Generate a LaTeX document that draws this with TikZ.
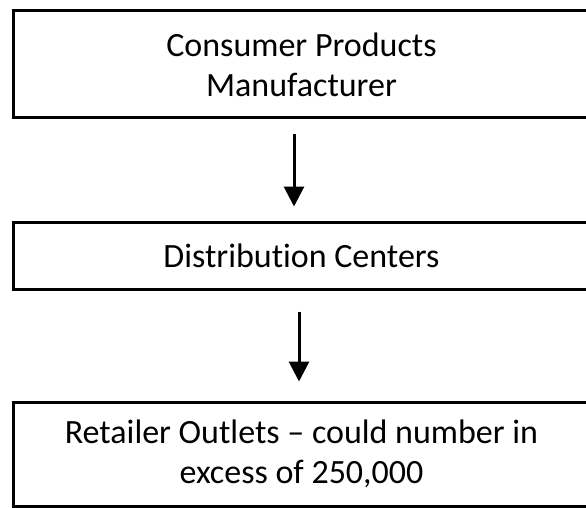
\documentclass[tikz,border=0pt]{standalone}
\usepackage{fontspec}
\setmainfont{Carlito}[Ligatures=NoCommon]
\usetikzlibrary{arrows.meta}
\begin{document}
\begin{tikzpicture}[x=1pt,y=1pt,
  box/.style={draw=black, line width=3pt, rectangle, inner sep=0pt, align=center,
    font=\fontsize{34}{40}\selectfont},
  flow/.style={line width=3pt, -{Triangle[width=20pt,length=20pt]}}]
\useasboundingbox (0,0) rectangle (586,-508);
\node[box, minimum width=577pt, minimum height=107pt] (top) at (301.5,-64.5) {Consumer Products\\Manufacturer};
\node[box, minimum width=577pt, minimum height=67pt] (mid) at (301.5,-255.5) {Distribution Centers};
\node[box, minimum width=577pt, minimum height=104pt] (bot) at (301.5,-454) {Retailer Outlets -- could number in\\excess of 250,000};
\draw[flow] ([xshift=-7.5pt,yshift=-15pt]top.south) -- ([xshift=-7.5pt,yshift=14pt]mid.north);
\draw[flow] ([xshift=-2.5pt,yshift=-21pt]mid.south) -- ([xshift=-2.5pt,yshift=19pt]bot.north);
\end{tikzpicture}
\end{document}
